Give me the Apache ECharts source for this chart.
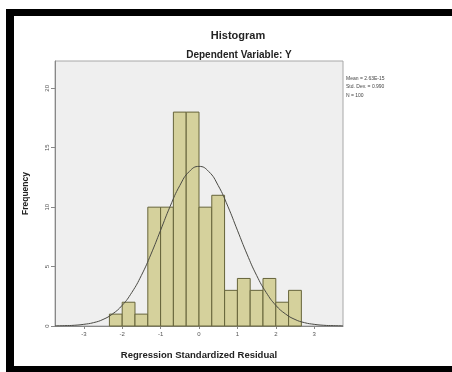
<!DOCTYPE html>
<html>
<head>
<meta charset="utf-8">
<script src="https://cdn.jsdelivr.net/npm/echarts@6/dist/echarts.min.js"></script>
<style>
  html, body { margin: 0; padding: 0; background: #fff; }
  #chart { width: 452px; height: 372px; }
</style>
</head>
<body>
<div id="chart"></div>
<script>
// histogram bins (lower edge, width 1/3)
const binLow = [-2.333, -2.0, -1.667, -1.333, -1.0, -0.667, -0.333, 0.0, 0.333, 0.667, 1.0, 1.333, 1.667, 2.0, 2.333]
const binWidth = 0.333
const counts = [1, 2, 1, 10, 10, 18, 18, 10, 11, 3, 4, 3, 4, 2, 3]

// normal curve
const curveX = [-3.75, -3.5, -3.25, -3, -2.75, -2.5, -2.25, -2, -1.75, -1.5, -1.25, -1, -0.75, -0.5, -0.25, 0,
  0.25, 0.5, 0.75, 1, 1.25, 1.5, 1.75, 2, 2.25, 2.5, 2.75, 3, 3.25, 3.5, 3.75]
const curveY = [0.01, 0.03, 0.06, 0.14, 0.28, 0.55, 1.02, 1.74, 2.82, 4.26, 6.05, 8.06, 10.08, 11.82, 13.01, 13.43,
  13.01, 11.82, 10.08, 8.06, 6.05, 4.26, 2.82, 1.74, 1.02, 0.55, 0.28, 0.14, 0.06, 0.03, 0.01]

const xTicks = [-3, -2, -1, 0, 1, 2, 3]
const yTicks = [0, 5, 10, 15, 20]
const statsText = ['Mean = 2.63E-15', 'Std. Dev. = 0.990', 'N = 100']

const chart = echarts.init(document.getElementById('chart'))
const font = 'Liberation Sans, Arial, sans-serif'

const barData = binLow.map((lo, i) => [lo, lo + binWidth, counts[i]])
const lineData = curveX.map((x, i) => [x, curveY[i]])

const option = {
  backgroundColor: '#fff',
  animation: false,
  title: [
    {
      text: 'Histogram',
      left: 233,
      top: 25,
      textAlign: 'center',
      textStyle: { fontSize: 11, fontWeight: 'bold', color: '#222', fontFamily: font }
    },
    {
      text: 'Dependent Variable: Y',
      left: 234,
      top: 45,
      textAlign: 'center',
      textStyle: { fontSize: 10, fontWeight: 'bold', color: '#222', fontFamily: font }
    }
  ],
  grid: {
    left: 55,
    right: 109,
    top: 61,
    bottom: 46,
    show: true,
    backgroundColor: '#efefef',
    borderColor: '#a8a8a8',
    borderWidth: 1
  },
  xAxis: {
    type: 'value',
    min: -3.75,
    max: 3.75,
    name: 'Regression Standardized Residual',
    nameLocation: 'middle',
    nameGap: 24,
    nameTextStyle: { fontSize: 9.5, fontWeight: 'bold', color: '#222', fontFamily: font },
    splitLine: { show: false },
    axisLine: { show: true, onZero: false, lineStyle: { color: '#888' } },
    axisTick: { show: true, length: 3, customValues: xTicks, lineStyle: { color: '#888' } },
    axisLabel: { customValues: xTicks, fontSize: 6, color: '#555', margin: 5, fontFamily: font }
  },
  yAxis: {
    type: 'value',
    min: 0,
    max: 22.3,
    name: 'Frequency',
    nameLocation: 'middle',
    nameGap: 25,
    nameTextStyle: { fontSize: 8.5, fontWeight: 'bold', color: '#222', fontFamily: font },
    splitLine: { show: false },
    axisLine: { show: true, onZero: false, lineStyle: { color: '#888' } },
    axisTick: { show: true, length: 4, customValues: yTicks, lineStyle: { color: '#888' } },
    axisLabel: { customValues: yTicks, rotate: 90, fontSize: 6, color: '#555', margin: 5, fontFamily: font }
  },
  series: [
    {
      type: 'custom',
      data: barData,
      encode: { x: [0, 1], y: 2 },
      renderItem: function (params, api) {
        const p0 = api.coord([api.value(0), api.value(2)])
        const p1 = api.coord([api.value(1), 0])
        return {
          type: 'rect',
          shape: { x: p0[0], y: p0[1], width: p1[0] - p0[0], height: p1[1] - p0[1] },
          style: { fill: '#d5d19c', stroke: '#66643a', lineWidth: 1 }
        }
      },
      z: 2
    },
    {
      type: 'line',
      data: lineData,
      smooth: true,
      showSymbol: false,
      lineStyle: { color: '#4a4a44', width: 1 },
      z: 3
    }
  ],
  graphic: [
    { type: 'rect', shape: { x: 6, y: 9, width: 446, height: 7 }, style: { fill: '#000' } },
    { type: 'rect', shape: { x: 6, y: 9, width: 8, height: 363 }, style: { fill: '#000' } },
    { type: 'rect', shape: { x: 6, y: 366, width: 446, height: 6 }, style: { fill: '#000' } },
    {
      type: 'text',
      left: 346,
      top: 74,
      style: {
        text: statsText.join('\n'),
        fontSize: 5,
        lineHeight: 8.5,
        fill: '#444',
        fontFamily: font
      }
    }
  ]
}

chart.setOption(option)
</script>
</body>
</html>
